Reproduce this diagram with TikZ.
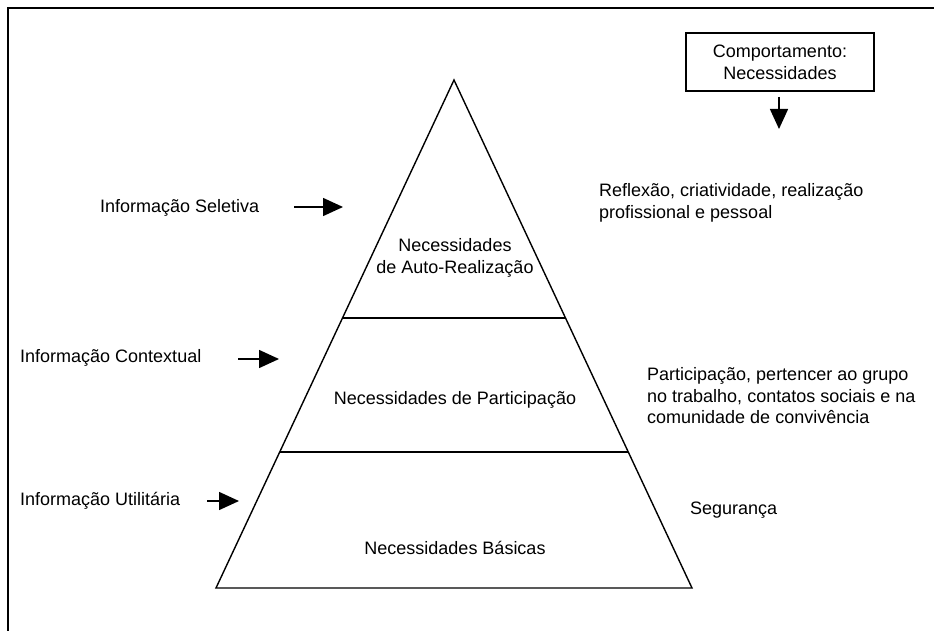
\documentclass[tikz,border=0pt]{standalone}
\usepackage{fontspec}
\setmainfont{Liberation Sans}
\usetikzlibrary{arrows.meta}
\begin{document}
\begin{tikzpicture}[x=1pt,y=-1pt,
  txt/.style={inner sep=0pt, font=\fontsize{18}{21.5}\selectfont},
  ltxt/.style={txt, anchor=west, align=left},
  ctxt/.style={txt, align=center},
  pyr/.style={line width=1.4pt, line join=miter},
  frame/.style={line width=1.8pt},
  arr/.style={line width=1.5pt, -{Triangle[length=20pt,width=18pt]}},
  cbox/.style={draw, line width=1.4pt, minimum width=188pt, minimum height=58pt, inner sep=0pt, align=center, font=\fontsize{18}{22}\selectfont}
]
\useasboundingbox (0,0) rectangle (934,631);
% frame (only top and left edges visible)
\coordinate (fTL) at (8,8);
\coordinate (fTR) at (934,8);
\coordinate (fBL) at (8,631);
\draw[frame] (fBL) -- (fTL) -- (fTR);
% pyramid
\coordinate (apex) at (454,80);
\coordinate (bl) at (216,588);
\coordinate (br) at (692,588);
\draw[pyr] (apex) -- (br) -- (bl) -- cycle;
\coordinate (d1l) at (342.5,318);
\coordinate (d1r) at (565.5,318);
\coordinate (d2l) at (280,452);
\coordinate (d2r) at (628,452);
\draw[pyr] (d1l) -- (d1r);
\draw[pyr] (d2l) -- (d2r);
% level labels
\node[ctxt] (lvl1) at (455,258) {Necessidades\\de Auto-Realização};
\node[ctxt] (lvl2) at (455,400) {Necessidades de Participação};
\node[ctxt] (lvl3) at (455,548) {Necessidades Básicas};
% left labels and arrows
\node[ltxt] (inf1) at (100,208) {Informação Seletiva};
\coordinate (a1s) at (294,207);
\coordinate (a1e) at (343,207);
\draw[arr] (a1s) -- (a1e);
\node[ltxt] (inf2) at (20,358) {Informação Contextual};
\coordinate (a2s) at (238,359);
\coordinate (a2e) at (279,359);
\draw[arr] (a2s) -- (a2e);
\node[ltxt] (inf3) at (20,501) {Informação Utilitária};
\coordinate (a3s) at (207,501);
\coordinate (a3e) at (239,501);
\draw[arr] (a3s) -- (a3e);
% right labels
\node[ltxt] (r1) at (599,203) {Reflexão, criatividade, realização\\profissional e pessoal};
\node[ltxt] (r2) at (647,396) {Participação, pertencer ao grupo\\no trabalho, contatos sociais e na\\comunidade de convivência};
\node[ltxt] (r3) at (690,510) {Segurança};
% behaviour box
\node[cbox] (comp) at (780,62) {Comportamento:\\Necessidades};
\coordinate (dtop) at (779,97);
\coordinate (dtip) at (779,129);
\draw[arr] (dtop) -- (dtip);
\end{tikzpicture}
\end{document}
